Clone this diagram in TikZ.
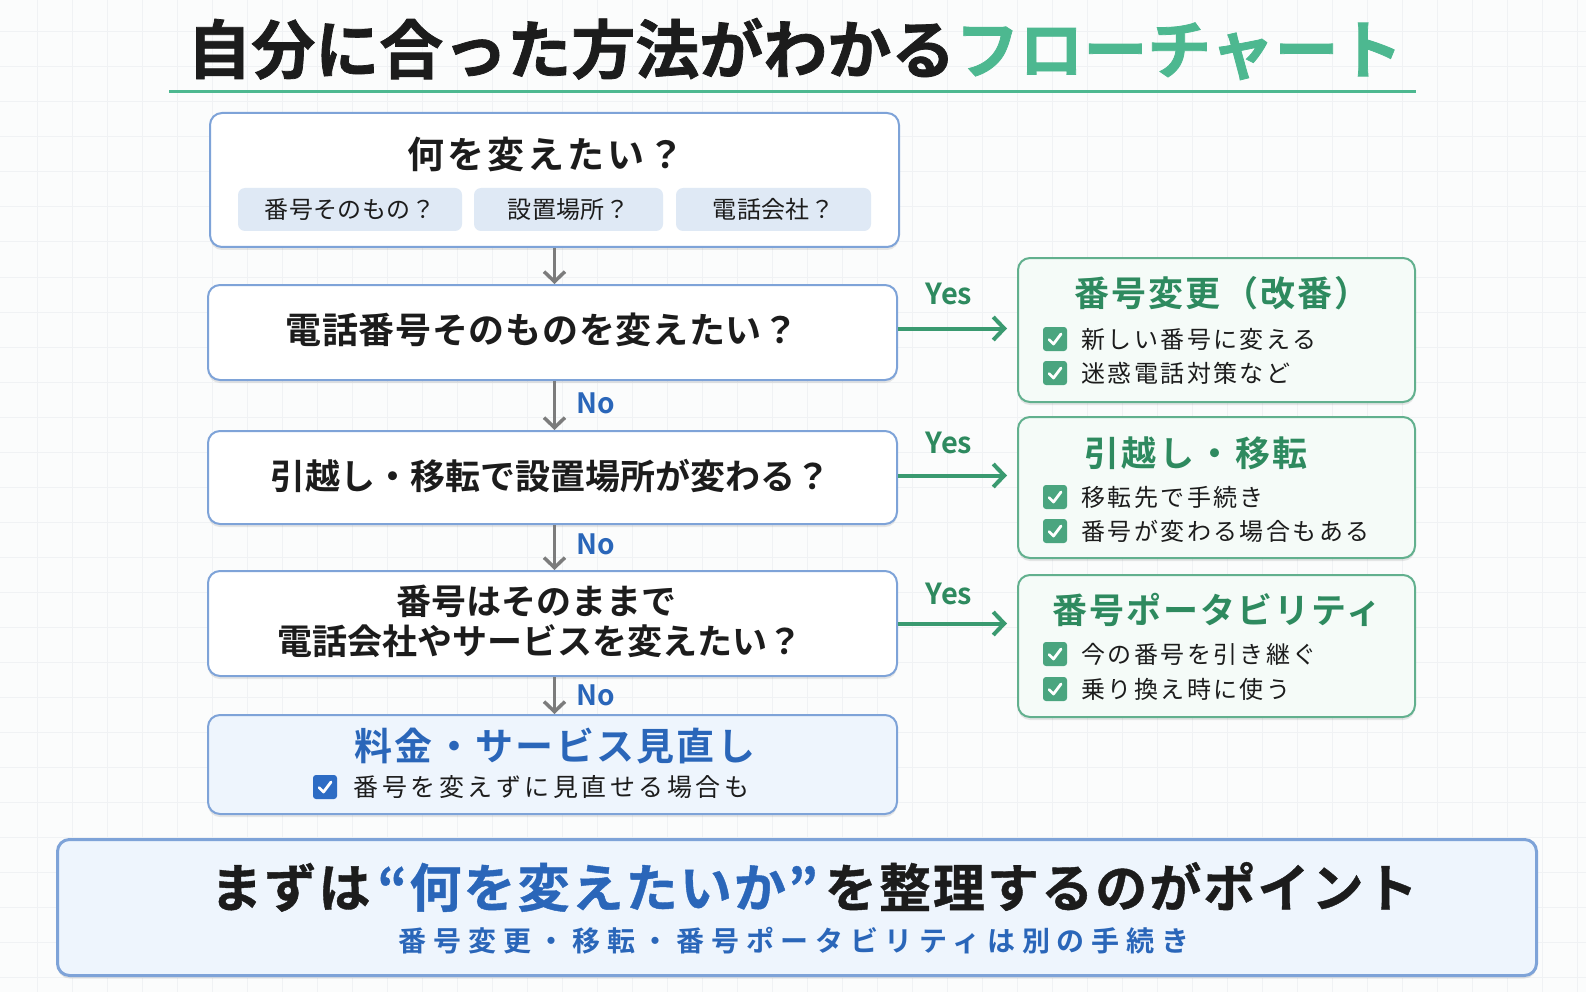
\documentclass[tikz,border=0pt]{standalone}
\usepackage{fontspec}
\setmainfont{Noto Sans CJK JP}[BoldFont={Noto Sans CJK JP Bold}]
\usetikzlibrary{arrows.meta,shadows,calc}
\definecolor{ink}{HTML}{1C1C1C}
\definecolor{tgreen}{HTML}{4DB890}
\definecolor{dgreen}{HTML}{2E8A5F}
\definecolor{rborder}{HTML}{62B08E}
\definecolor{rfill}{HTML}{F5FBF8}
\definecolor{qblue}{HTML}{7EA3D8}
\definecolor{pillc}{HTML}{DFE9F5}
\definecolor{lblue}{HTML}{EEF5FD}
\definecolor{tblue}{HTML}{2A66B9}
\definecolor{garr}{HTML}{7C7C7C}
\definecolor{grarr}{HTML}{3A9A70}
\definecolor{chkg}{HTML}{4AA57F}
\definecolor{chkb}{HTML}{2D6CC4}
\definecolor{bgc}{HTML}{FBFCFC}
\definecolor{gridc}{HTML}{F0F2F4}
\newcommand\FS[1]{\fontsize{#1pt}{#1pt}\selectfont}
\newcommand\LS[1]{\addfontfeatures{LetterSpace=#1}}
\tikzset{
  qbox/.style={draw=qblue, line width=2pt, rounded corners=12pt, fill=white, anchor=north west, inner sep=0pt,
    drop shadow={shadow xshift=0pt, shadow yshift=-3pt, opacity=0.18}},
  rbox/.style={draw=rborder, line width=2pt, rounded corners=12pt, fill=rfill, anchor=north west, inner sep=0pt,
    drop shadow={shadow xshift=0pt, shadow yshift=-3pt, opacity=0.18}},
  pill/.style={fill=pillc, rounded corners=7pt, inner sep=0pt},
  grayarrow/.style={draw=garr, line width=3.5pt, -{Straight Barb[length=10pt,width=21pt,line width=3.5pt]}},
  greenarrow/.style={draw=grarr, line width=4pt, shorten >=10pt, -{Straight Barb[length=11pt,width=23pt,line width=4pt]}},
  qtext/.style={text=ink, font=\FS{36}\bfseries\LS{2}, align=center},
  qtextb/.style={text=ink, font=\FS{35}\bfseries\LS{0}, align=center},
  rtitle/.style={text=dgreen, font=\FS{35}\bfseries\LS{6}},
  item/.style={text=ink, anchor=west, font=\FS{24}\LS{10}},
  nolab/.style={text=tblue, font=\FS{28}\bfseries},
  yeslab/.style={text=dgreen, font=\FS{29}\bfseries},
  chkgreen/.pic={\fill[chkg, rounded corners=3pt] (-12,-12) rectangle (12,12);
    \draw[white, line width=2.8pt, line cap=round, line join=round] (-6,0.5) -- (-1.5,5) -- (6,-5);},
  chkblue/.pic={\fill[chkb, rounded corners=3pt] (-12,-12) rectangle (12,12);
    \draw[white, line width=2.8pt, line cap=round, line join=round] (-6,0.5) -- (-1.5,5) -- (6,-5);}
}
\begin{document}
\begin{tikzpicture}[x=1pt, y=-1pt]
\useasboundingbox (0,0) rectangle (1586,992);
\fill[bgc] (0,0) rectangle (1586,992);
\foreach \gx in {37,72,...,1586} {\draw[gridc, line width=1pt] (\gx,0) -- (\gx,992);}
\foreach \gy in {32,67,...,992} {\draw[gridc, line width=1pt] (0,\gy) -- (1586,\gy);}

% title
\node (title) at (795,49) {\FS{64}\bfseries\addfontfeatures{FakeBold=1.2}\color{ink}自分に合った方法がわかる\color{tgreen}フローチャート};
\coordinate (ul1) at (169,92);
\coordinate (ul2) at (1416,92);
\draw[tgreen, line width=3pt] (ul1) -- (ul2);

% question boxes
\node[qbox, minimum width=689pt, minimum height=134pt] (q0) at (209,112) {};
\node[text=ink, font=\FS{37}\bfseries\LS{8}] (q0t) at (546,154) {何を変えたい？};
\node[pill, minimum width=224pt, minimum height=43pt] (p1) at (350,209.5) {};
\node[pill, minimum width=189pt, minimum height=43pt] (p2) at (568.5,209.5) {};
\node[pill, minimum width=195pt, minimum height=43pt] (p3) at (773.5,209.5) {};
\node[text=ink, font=\FS{24}\LS{2}] at (p1) {番号そのもの？};
\node[text=ink, font=\FS{24}\LS{2}] at (p2) {設置場所？};
\node[text=ink, font=\FS{24}\LS{2}] at (p3) {電話会社？};

\node[qbox, minimum width=689pt, minimum height=95pt] (q1) at (207,284) {};
\node[qtext] (q1t) at (542,330) {電話番号そのものを変えたい？};

\node[qbox, minimum width=689pt, minimum height=93pt] (q2) at (207,430) {};
\node[qtextb] (q2t) at (550,476) {引越し・移転で設置場所が変わる？};

\node[qbox, minimum width=689pt, minimum height=105pt] (q3) at (207,570) {};
\node[qtextb] (q3a) at (536,601) {番号はそのままで};
\node[qtextb] (q3b) at (540,641) {電話会社やサービスを変えたい？};

\node[qbox, fill=lblue, minimum width=689pt, minimum height=99pt] (q4) at (207,714) {};
\node[text=tblue, font=\FS{38}\bfseries\LS{6}] (q4t) at (555,746) {料金・サービス見直し};
\pic at (325,787) {chkblue};
\node[item, font=\FS{25}\LS{14}] (q4i) at (350,787) {番号を変えずに見直せる場合も};

% gray arrows
\draw[grayarrow] (q0.south) -- (q0.south |- q1.north);
\draw[grayarrow] (q1.south -| q0.south) -- (q2.north -| q0.south);
\draw[grayarrow] (q2.south -| q0.south) -- (q3.north -| q0.south);
\draw[grayarrow] (q3.south -| q0.south) -- (q4.north -| q0.south);
\node[nolab] at (596,403) {No};
\node[nolab] at (596,544) {No};
\node[nolab] at (596,695) {No};

% right result boxes
\node[rbox, minimum width=397pt, minimum height=144pt] (r1) at (1017,257) {};
\node[rtitle] (r1t) at (1222,293) {番号変更（改番）};
\pic at (1055,339) {chkgreen};
\node[item] at (1078,339) {新しい番号に変える};
\pic at (1055,373) {chkgreen};
\node[item] at (1078,373) {迷惑電話対策など};

\node[rbox, minimum width=397pt, minimum height=141pt] (r2) at (1017,416) {};
\node[rtitle, font=\FS{35}\bfseries\LS{8}] (r2t) at (1196,453) {引越し・移転};
\pic at (1055,497) {chkgreen};
\node[item] at (1078,497) {移転先で手続き};
\pic at (1055,531) {chkgreen};
\node[item] at (1078,531) {番号が変わる場合もある};

\node[rbox, minimum width=397pt, minimum height=142pt] (r3) at (1017,574) {};
\node[rtitle] (r3t) at (1217,610) {番号ポータビリティ};
\pic at (1055,654) {chkgreen};
\node[item] at (1078,654) {今の番号を引き継ぐ};
\pic at (1055,689) {chkgreen};
\node[item] at (1078,689) {乗り換え時に使う};

% yes arrows
\draw[greenarrow] ($(q1.east)+(0,-4)$) -- ($(q1.east -| r1.west)+(0,-4)$);
\draw[greenarrow] ($(q2.east)+(0,-2)$) -- ($(q2.east -| r2.west)+(0,-2)$);
\draw[greenarrow] (q3.east) -- (q3.east -| r3.west);
\node[yeslab] at (949,294) {Yes};
\node[yeslab] at (949,443) {Yes};
\node[yeslab] at (949,594) {Yes};

% bottom summary
\node[qbox, fill=lblue, draw=qblue, line width=3pt, minimum width=1479pt, minimum height=136pt] (sum) at (56,838) {};
\node[font=\FS{52}\bfseries\LS{4}] (sumt) at (814,887) {\addfontfeatures{FakeBold=0.8}\color{ink}まずは\hspace{7pt}\color{tblue}“何を変えたいか”\hspace{7pt}\color{ink}を整理するのがポイント};
\node[text=tblue, font=\FS{28}\bfseries\LS{24}] (sums) at (794,941) {番号変更・移転・番号ポータビリティは別の手続き};
\end{tikzpicture}
\end{document}
